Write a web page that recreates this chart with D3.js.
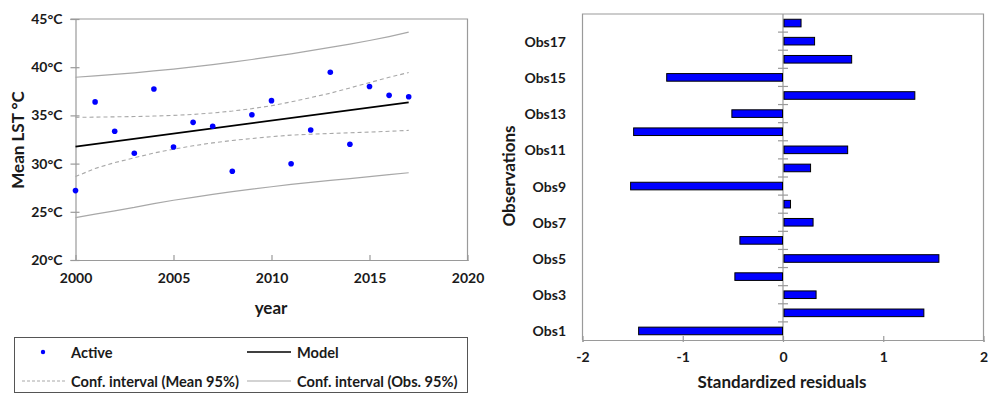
<!DOCTYPE html>
<html><head><meta charset="utf-8">
<script src="https://cdn.jsdelivr.net/npm/d3@7"></script>
<style>
body{margin:0;background:#fff;}
svg text{font-family:Lato,"Open Sans",sans-serif;font-weight:700;fill:#1a1a1a;}
</style></head><body>
<svg id="c" width="990" height="395"></svg>
<script>
// Mean land surface temperature by year, with the linear model and its confidence bands
const years = [2000,2001,2002,2003,2004,2005,2006,2007,2008,2009,2010,2011,2012,2013,2014,2015,2016,2017];
const lstValues = [27.2,36.4,33.35,31.07,37.74,31.72,34.28,33.87,29.2,35.07,36.53,29.99,33.49,39.47,32.0,38.0,37.08,36.94];
const modelYears = [2000, 2017];
const modelValues = [31.76, 36.36];
const meanCiUpper = [34.8,34.82,34.85,34.88,34.93,35.0,35.1,35.25,35.45,35.7,36.0,36.4,36.85,37.3,37.85,38.4,38.95,39.45];
const meanCiLower = [28.65,29.5,30.1,30.6,31.1,31.5,31.85,32.15,32.4,32.6,32.8,32.95,33.05,33.12,33.2,33.27,33.35,33.45];
const obsCiUpper = [38.96,39.1,39.25,39.42,39.61,39.81,40.03,40.27,40.52,40.8,41.09,41.39,41.71,42.05,42.4,42.77,43.18,43.63];
const obsCiLower = [24.4,24.75,25.1,25.45,25.85,26.2,26.5,26.8,27.1,27.35,27.6,27.85,28.05,28.25,28.45,28.65,28.85,29.05];
const yearTicks = [2000,2005,2010,2015,2020];
const tempTicks = [20,25,30,35,40,45];

// Standardized residuals per observation
const observations = ["Obs1","Obs2","Obs3","Obs4","Obs5","Obs6","Obs7","Obs8","Obs9","Obs10","Obs11","Obs12","Obs13","Obs14","Obs15","Obs16","Obs17","Obs18"];
const residuals = [-1.44,1.40,0.325,-0.48,1.55,-0.43,0.295,0.07,-1.52,0.27,0.64,-1.49,-0.51,1.31,-1.16,0.68,0.31,0.175];
const residualTicks = [-2,-1,0,1,2];
const labelledObs = ["Obs1","Obs3","Obs5","Obs7","Obs9","Obs11","Obs13","Obs15","Obs17"];

const svg = d3.select("#c");
const axisGrey = "#9a9a9a";
const blue = "#0000ff";

// ---------- left: regression plot ----------
const x = d3.scaleLinear().domain([2000, 2020]).range([75.5, 467.5]);
const y = d3.scaleLinear().domain([20, 45]).range([260, 19]);
const left = svg.append("g");

// frame (top and right edges)
left.append("path")
  .attr("d", `M${x(2000)-5},${y(45)}H${x(2020)}V${y(20)}`)
  .attr("fill", "none").attr("stroke", axisGrey).attr("stroke-width", 1.2);

const yAx = left.append("g").attr("transform", `translate(${x(2000)},0)`)
  .call(d3.axisLeft(y).tickValues(tempTicks).tickSize(5).tickPadding(8).tickFormat(d => d + "°C"));
const xAx = left.append("g").attr("transform", `translate(0,${y(20)})`)
  .call(d3.axisBottom(x).tickValues(yearTicks).tickSize(1).tickPadding(12).tickFormat(d => String(d)));
[yAx, xAx].forEach(g => {
  g.select(".domain").attr("stroke", axisGrey).attr("stroke-width", 1.2);
  g.selectAll(".tick line").attr("stroke", axisGrey).attr("stroke-width", 1.2);
  g.selectAll("text").attr("font-size", 14).attr("fill", "#1a1a1a");
});
yAx.selectAll(".tick line").attr("x1", 4);
xAx.selectAll(".tick line").attr("y1", -5);

const lineGen = (vals) => d3.line().x((d, i) => x(years[i])).y(d => y(d))(vals);

left.append("path").attr("d", lineGen(obsCiUpper)).attr("fill", "none").attr("stroke", "#a8a8a8").attr("stroke-width", 1.2);
left.append("path").attr("d", lineGen(obsCiLower)).attr("fill", "none").attr("stroke", "#a8a8a8").attr("stroke-width", 1.2);
left.append("path").attr("d", lineGen(meanCiUpper)).attr("fill", "none").attr("stroke", "#a8a8a8").attr("stroke-width", 1.1).attr("stroke-dasharray", "4,3");
left.append("path").attr("d", lineGen(meanCiLower)).attr("fill", "none").attr("stroke", "#a8a8a8").attr("stroke-width", 1.1).attr("stroke-dasharray", "4,3");
left.append("path")
  .attr("d", d3.line().x((d, i) => x(modelYears[i])).y(d => y(d))(modelValues))
  .attr("fill", "none").attr("stroke", "#000").attr("stroke-width", 1.8);

left.selectAll("circle.pt").data(lstValues).join("circle").attr("class", "pt")
  .attr("cx", (d, i) => x(years[i])).attr("cy", d => y(d)).attr("r", 2.8).attr("fill", blue);

left.append("text").attr("transform", `translate(17,140) rotate(-90)`)
  .attr("text-anchor", "middle").attr("dominant-baseline", "central").attr("font-size", 17).text("Mean LST °C");
left.append("text").attr("x", 271).attr("y", 307)
  .attr("text-anchor", "middle").attr("dominant-baseline", "central").attr("font-size", 17).text("year");

// legend
const lg = svg.append("g");
lg.append("rect").attr("x", 14.5).attr("y", 337.5).attr("width", 453).attr("height", 55)
  .attr("fill", "#fff").attr("stroke", "#555").attr("stroke-width", 1);
const r1 = 352, r2 = 381, lgFont = 14.6;
lg.append("circle").attr("cx", 43).attr("cy", r1).attr("r", 2.2).attr("fill", blue);
lg.append("text").attr("x", 71).attr("y", r1).attr("dominant-baseline", "central").attr("font-size", lgFont).text("Active");
lg.append("line").attr("x1", 247).attr("x2", 291).attr("y1", r1).attr("y2", r1).attr("stroke", "#000").attr("stroke-width", 1.5);
lg.append("text").attr("x", 297).attr("y", r1).attr("dominant-baseline", "central").attr("font-size", lgFont).text("Model");
lg.append("line").attr("x1", 22).attr("x2", 67).attr("y1", r2).attr("y2", r2).attr("stroke", "#a8a8a8").attr("stroke-width", 1).attr("stroke-dasharray", "3,2");
lg.append("text").attr("x", 71).attr("y", r2).attr("dominant-baseline", "central").attr("font-size", lgFont).text("Conf. interval (Mean 95%)");
lg.append("line").attr("x1", 247).attr("x2", 291).attr("y1", r2).attr("y2", r2).attr("stroke", "#a8a8a8").attr("stroke-width", 1.2);
lg.append("text").attr("x", 297).attr("y", r2).attr("dominant-baseline", "central").attr("font-size", lgFont).text("Conf. interval (Obs. 95%)");

// ---------- right: standardized residuals ----------
const rx = d3.scaleLinear().domain([-2, 2]).range([582.5, 983.5]);
const ry = d3.scaleBand().domain(observations.slice().reverse()).range([14, 340]).paddingInner(0.58).paddingOuter(0.29);
const right = svg.append("g");

right.append("path")
  .attr("d", `M${rx(-2)},${ry.range()[1]}V${ry.range()[0]}H${rx(2)}V${ry.range()[1]}`)
  .attr("fill", "none").attr("stroke", axisGrey).attr("stroke-width", 1.2);

const rxAx = right.append("g").attr("transform", `translate(0,${ry.range()[1]})`)
  .call(d3.axisBottom(rx).tickValues(residualTicks).tickSize(2).tickPadding(10).tickFormat(d => String(d)));
rxAx.select(".domain").attr("stroke", axisGrey).attr("stroke-width", 1.2);
rxAx.selectAll(".tick line").attr("stroke", axisGrey).attr("stroke-width", 1.2).attr("y1", -4);
rxAx.selectAll("text").attr("font-size", 14).attr("fill", "#1a1a1a");

// zero line with category separators
right.append("line").attr("x1", rx(0)).attr("x2", rx(0)).attr("y1", ry.range()[0]).attr("y2", ry.range()[1])
  .attr("stroke", axisGrey).attr("stroke-width", 1.2);
const step = ry.step();
right.selectAll("line.sep").data(d3.range(1, observations.length)).join("line").attr("class", "sep")
  .attr("x1", rx(0) - 5).attr("x2", rx(0) + 5)
  .attr("y1", k => ry.range()[0] + k * step).attr("y2", k => ry.range()[0] + k * step)
  .attr("stroke", axisGrey).attr("stroke-width", 1.2);

right.selectAll("rect.bar").data(residuals).join("rect").attr("class", "bar")
  .attr("x", d => Math.min(rx(0), rx(d)) + (d > 0 ? 1 : 0))
  .attr("width", d => Math.abs(rx(d) - rx(0)) - 0.5)
  .attr("y", (d, i) => ry(observations[i]))
  .attr("height", ry.bandwidth())
  .attr("fill", blue).attr("stroke", "#000").attr("stroke-width", 1);

right.selectAll("text.obs").data(labelledObs).join("text").attr("class", "obs")
  .attr("x", 566).attr("y", d => ry(d) + ry.bandwidth() / 2)
  .attr("text-anchor", "end").attr("dominant-baseline", "central").attr("font-size", 14).text(d => d);

right.append("text").attr("transform", `translate(508,176) rotate(-90)`)
  .attr("text-anchor", "middle").attr("dominant-baseline", "central").attr("font-size", 17).text("Observations");
right.append("text").attr("x", 782).attr("y", 381)
  .attr("text-anchor", "middle").attr("dominant-baseline", "central").attr("font-size", 17).text("Standardized residuals");
</script>
</body></html>
